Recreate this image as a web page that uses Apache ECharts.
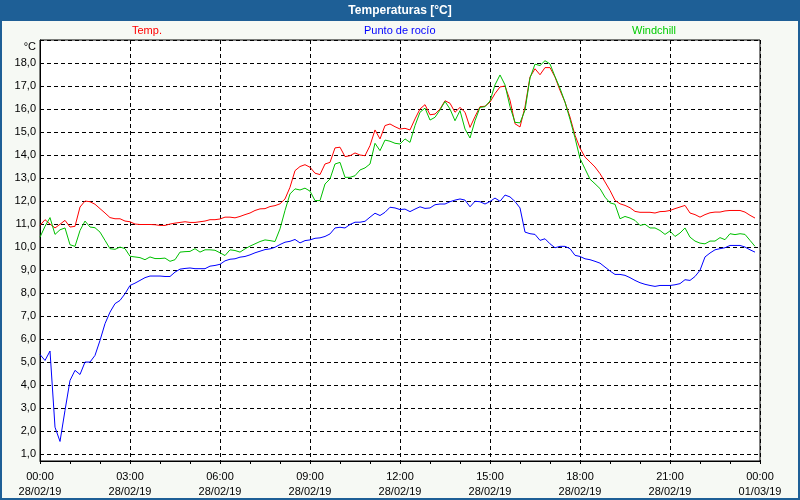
<!DOCTYPE html>
<html><head><meta charset="utf-8">
<script src="https://cdn.jsdelivr.net/npm/echarts@6/dist/echarts.min.js"></script>
<style>html,body{margin:0;padding:0;background:#f6f9f4}#c{width:800px;height:500px}</style>
</head><body><div id="c"></div>
<script>
const chartTitle = 'Temperaturas [°C]';
const unitLabel = '°C';
const seriesNames = ['Temp.', 'Punto de rocío', 'Windchill'];
const lineColors = ['#ff0000', '#0000ff', '#00c000'];
const legendColors = ['#ff0000', '#0000ff', '#00cc00'];
const startDate = '28/02/19';
const endDate = '01/03/19';
const stepMinutes = 10; // sampling interval, first sample at 00:00

const temp = [
10.94,11.19,11.0,10.83,10.99,11.16, 10.87,10.9,11.74,12.0,11.97,11.86,
11.67,11.48,11.28,11.23,11.23,11.13, 11.1,11.0,10.98,10.98,10.98,10.97,
10.94,10.94,11.0,11.04,11.07,11.1, 11.07,11.07,11.1,11.13,11.19,11.19,
11.22,11.3,11.3,11.27,11.33,11.41, 11.48,11.59,11.66,11.67,11.76,11.8,
11.88,12.09,12.6,13.32,13.5,13.58, 13.47,13.21,13.15,13.61,13.68,14.31,
14.34,13.93,13.97,14.09,14.0,13.97, 14.41,15.09,14.7,15.28,15.35,15.23,
15.13,15.16,15.09,15.57,16.0,16.19, 15.75,15.78,16.0,16.36,16.25,15.86,
16.07,15.86,15.2,15.67,16.1,16.12, 16.3,16.67,16.96,17.0,16.38,15.36,
15.22,16.09,17.39,17.75,17.49,17.8, 17.8,17.39,16.81,16.3,15.65,14.86,
14.3,13.91,13.7,13.48,13.19,12.83, 12.46,12.03,11.88,11.81,11.71,11.55,
11.51,11.51,11.51,11.48,11.54,11.55, 11.59,11.67,11.74,11.81,11.48,11.41,
11.3,11.41,11.49,11.52,11.52,11.57, 11.59,11.59,11.59,11.52,11.38,11.26
];
const dewPoint = [
5.33,5.07,5.48,2.17,1.55,2.9, 4.2,4.64,4.46,5.0,5.0,5.29,
5.94,6.67,7.17,7.54,7.68,7.97, 8.33,8.43,8.55,8.67,8.74,8.74,
8.74,8.72,8.72,8.91,9.04,9.07, 9.09,9.06,9.06,9.06,9.17,9.2,
9.25,9.4,9.47,9.49,9.56,9.59, 9.66,9.75,9.82,9.89,9.92,9.99,
10.11,10.21,10.25,10.33,10.18,10.28, 10.31,10.38,10.4,10.46,10.57,10.83,
10.86,10.83,10.98,11.08,11.08,11.12, 11.3,11.47,11.37,11.51,11.73,11.7,
11.63,11.65,11.54,11.65,11.75,11.68, 11.7,11.84,11.87,11.87,11.97,12.04,
12.09,12.04,11.75,11.99,11.97,11.87, 11.98,12.13,11.99,12.26,12.18,11.98,
11.7,10.65,10.58,10.55,10.29,10.36, 10.14,9.97,10.03,10.03,9.93,9.64,
9.59,9.49,9.45,9.38,9.3,9.13, 8.96,8.81,8.81,8.77,8.67,8.55,
8.45,8.38,8.33,8.29,8.33,8.33, 8.33,8.36,8.41,8.58,8.55,8.72,
8.99,9.57,9.74,9.88,9.93,9.97, 10.07,10.07,10.07,10.0,9.88,9.78
];
const windchill = [
10.43,10.9,11.28,10.55,10.75,10.83, 10.1,10.03,10.72,11.13,10.87,10.84,
10.65,10.29,9.93,9.9,10.0,9.93, 9.6,9.57,9.54,9.45,9.57,9.5,
9.5,9.52,9.38,9.45,9.78,9.8, 9.81,9.93,9.78,9.88,9.88,9.86,
9.75,9.63,9.88,9.85,9.78,9.92, 10.04,10.14,10.24,10.31,10.28,10.24,
10.79,11.59,12.31,12.53,12.48,12.56, 12.43,12.02,12.02,12.74,12.96,13.61,
13.68,13.03,13.03,13.1,13.35,13.44, 13.61,14.51,14.19,14.65,14.6,14.51,
14.48,14.7,14.55,15.28,15.86,16.04, 15.52,15.64,15.96,16.33,16.0,15.49,
15.93,15.13,14.74,15.49,16.07,16.1, 16.35,17.05,17.48,17.05,16.1,15.42,
15.4,15.95,17.35,17.95,17.89,18.1, 17.96,17.41,16.9,16.3,15.55,14.75,
13.85,13.4,12.95,12.75,12.54,12.17, 11.92,11.86,11.23,11.33,11.26,11.16,
10.94,10.99,10.83,10.83,10.72,10.55, 10.7,10.46,10.61,10.83,10.43,10.26,
10.17,10.14,10.26,10.26,10.41,10.32, 10.58,10.54,10.58,10.55,10.29,10.03
];

const FONT = '"Liberation Sans", Arial, sans-serif';
const toPairs = arr => arr.map((v, i) => [i * stepMinutes / 60, v]);
const pad = n => (n < 10 ? '0' : '') + n;
const legendLeft = [127, 359, 627];

const chart = echarts.init(document.getElementById('c'));
chart.setOption({
  animation: false,
  backgroundColor: '#f6f9f4',
  textStyle: { fontFamily: FONT },
  graphic: [
    { type: 'rect', shape: { x: 0, y: 0, width: 800, height: 21 }, style: { fill: '#1e5f96' }, z: -1 },
    { type: 'rect', shape: { x: 1, y: 1, width: 798, height: 498 }, style: { fill: 'none', stroke: '#1e5f96', lineWidth: 2 }, z: -1 }
  ],
  title: {
    text: chartTitle, left: 'center', top: 4, padding: 0,
    textStyle: { color: '#ffffff', fontSize: 12, fontWeight: 'bold', fontFamily: FONT, lineHeight: 14 }
  },
  legend: seriesNames.map((n, i) => ({
    data: [{ name: n, textStyle: { color: legendColors[i] } }],
    left: legendLeft[i], top: 24, padding: 0, icon: 'none', itemWidth: 0, itemGap: 0,
    textStyle: { fontSize: 11, fontFamily: FONT }
  })),
  grid: { left: 40, right: 40, top: 40, bottom: 39, show: true, backgroundColor: '#ffffff', borderColor: '#000', borderWidth: 1 },
  xAxis: {
    type: 'value', min: 0, max: 24, interval: 3,
    axisLine: { show: true, lineStyle: { color: '#000', width: 1 } },
    axisTick: { show: true, length: 3, lineStyle: { color: '#000' } },
    minorTick: { show: true, splitNumber: 3, length: 3, lineStyle: { color: '#000' } },
    splitLine: { show: true, lineStyle: { color: '#000', type: [4, 3], width: 1 } },
    axisLabel: {
      color: '#000', fontSize: 11, fontFamily: FONT, margin: 8, lineHeight: 15,
      showMinLabel: true, showMaxLabel: true,
      formatter: v => pad(Math.round(v) % 24) + ':00\n' + (v >= 24 ? endDate : startDate)
    }
  },
  yAxis: {
    type: 'value', min: 0.7, max: 19, minInterval: 1, maxInterval: 1,
    name: unitLabel, nameLocation: 'end', nameGap: -7,
    nameTextStyle: { color: '#000', fontSize: 11, fontFamily: FONT, align: 'right', verticalAlign: 'middle', padding: [0, 4, 0, 0] },
    axisLine: { show: true, lineStyle: { color: '#000', width: 1 } },
    axisTick: { show: false },
    splitLine: { show: true, lineStyle: { color: '#000', type: [4, 3], width: 1 } },
    axisLabel: {
      color: '#000', fontSize: 11, fontFamily: FONT, margin: 4,
      formatter: v => (Math.abs(v - Math.round(v)) > 1e-6 || v > 18.5) ? '' : v.toFixed(1).replace('.', ',')
    }
  },
  series: [temp, dewPoint, windchill].map((d, i) => ({
    name: seriesNames[i], type: 'line', data: toPairs(d), showSymbol: false, symbol: 'none',
    lineStyle: { color: lineColors[i], width: 1 }, itemStyle: { color: lineColors[i] },
    emphasis: { disabled: true }
  }))
});
</script>
</body></html>
